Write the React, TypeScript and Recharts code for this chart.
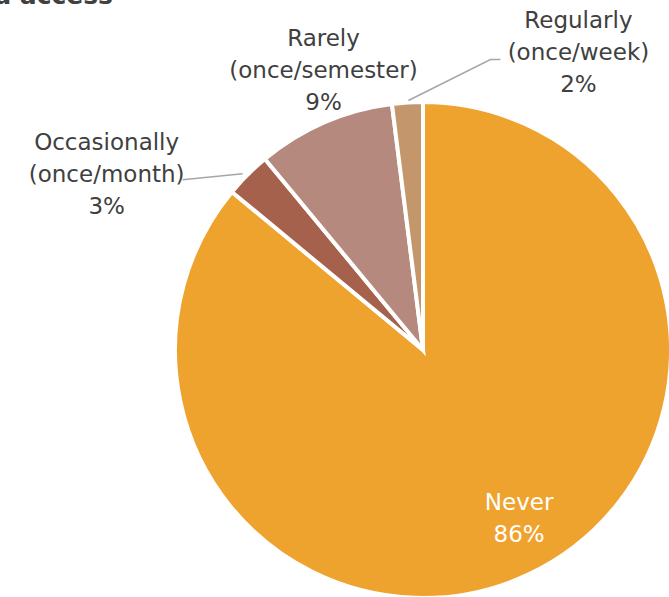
import { Pie, PieChart, Cell } from "recharts";

const categories = ["Never", "Occasionally", "Rarely", "Regularly"];
const labelLines = [["Never"], ["Occasionally", "(once/month)"], ["Rarely", "(once/semester)"], ["Regularly", "(once/week)"]];
const shares = [86, 3, 9, 2];
const colors = ["#EFA32F", "#A5614B", "#B5897D", "#C4966B"];

const data = categories.map((name, i) => ({ name, value: shares[i], lines: labelLines[i] }));

const FONT = "'DejaVu Sans', sans-serif";
const RAD = Math.PI / 180;

// where each label sits relative to the slice's outer edge point
const layout: Record<string, { dx: number; dy: number; line?: boolean; elbow?: boolean; inside?: boolean }> = {
  Never: { dx: 0, dy: 0, inside: true },
  Occasionally: { dx: -141, dy: -1, line: true },
  Rarely: { dx: -1, dy: -52 },
  Regularly: { dx: 171, dy: -50, line: true, elbow: true },
};

function renderLabel(props: any) {
  const { cx, cy, midAngle, outerRadius, payload, index } = props;
  const cfg = layout[payload.name];
  const lines: string[] = [...payload.lines, `${payload.value}%`];
  const lh = 32;
  let x: number;
  let y: number;
  const ex = cx + outerRadius * Math.cos(-midAngle * RAD);
  const ey = cy + outerRadius * Math.sin(-midAngle * RAD);
  if (cfg.inside) {
    x = cx + 0.78 * outerRadius * Math.cos(-(midAngle + 4.6) * RAD);
    y = cy + 0.78 * outerRadius * Math.sin(-(midAngle + 4.6) * RAD);
  } else {
    x = ex + cfg.dx;
    y = ey + cfg.dy;
  }
  const top = y - ((lines.length - 1) * lh) / 2;
  let path: string | null = null;
  if (cfg.line && !cfg.elbow) {
    path = `M${ex - 5},${ey - 1}L${x + 76},${y + 6}`;
  } else if (cfg.elbow) {
    path = `M${ex + 1},${ey - 2}L${x - 88},${y + 7}L${x - 78},${y + 7}`;
  }
  return (
    <g key={`lbl-${index}`}>
      {path && <path d={path} stroke="#A6A6A6" strokeWidth={1.5} fill="none" />}
      <text
        x={x}
        y={top}
        textAnchor="middle"
        dominantBaseline="central"
        fontFamily={FONT}
        fontSize={23}
        fill={cfg.inside ? "#FFFFFF" : "#404040"}
      >
        {lines.map((t, i) => (
          <tspan key={i} x={x} y={top + i * lh}>
            {t}
          </tspan>
        ))}
      </text>
    </g>
  );
}

export default function App() {
  return (
    <div style={{ position: "absolute", left: 0, top: 0, width: 669, height: 597, overflow: "hidden", background: "#fff" }}>
      <div
        style={{
          position: "absolute",
          right: 669 - 113,
          top: -19,
          whiteSpace: "nowrap",
          fontFamily: FONT,
          fontSize: 25,
          fontWeight: 600,
          color: "#404040",
          lineHeight: "normal",
        }}
      >
        Frequency of data access
      </div>
      <PieChart
        width={669}
        height={597}
        margin={{ top: 0, right: 0, bottom: 0, left: 0 }}
        style={{ position: "absolute", left: 0, top: 0 }}
      >
        <Pie
          data={data}
          dataKey="value"
          nameKey="name"
          cx={423}
          cy={350}
          outerRadius={248}
          startAngle={90}
          endAngle={-270}
          stroke="#FFFFFF"
          strokeWidth={4}
          label={renderLabel}
          labelLine={false}
          isAnimationActive={false}
        >
          {data.map((d, i) => (
            <Cell key={d.name} fill={colors[i]} />
          ))}
        </Pie>
      </PieChart>
    </div>
  );
}
